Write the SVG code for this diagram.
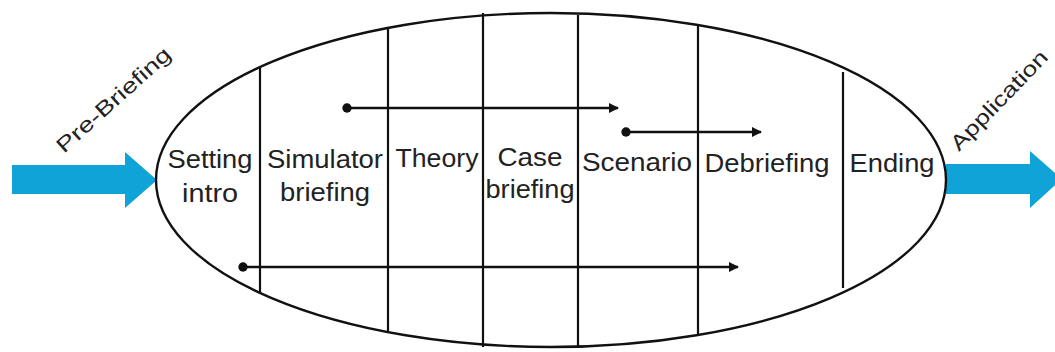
<svg xmlns="http://www.w3.org/2000/svg" width="1055" height="352" viewBox="0 0 1055 352">
<defs>
<style>
.lbl{font-family:"Liberation Sans",Arial,sans-serif;font-size:25px;fill:#222;text-anchor:middle}
.rot{font-family:"Liberation Sans",Arial,sans-serif;font-size:21px;fill:#222}
.div{stroke:#111;stroke-width:2.2;fill:none}
.conn{stroke:#111;stroke-width:2.6;fill:none}
.blue{fill:#0fa3d8}
</style>
<marker id="ah" viewBox="0 0 10 10" refX="9" refY="5" markerWidth="4" markerHeight="4" orient="auto" markerUnits="strokeWidth">
<path d="M0,0 L10,5 L0,10 z" fill="#111"/>
</marker>
<marker id="dot" viewBox="0 0 10 10" refX="5" refY="5" markerWidth="4" markerHeight="4" markerUnits="strokeWidth">
<circle cx="5" cy="5" r="4.5" fill="#111"/>
</marker>
</defs>
<rect width="1055" height="352" fill="#fff"/>
<g id="input-arrow">
<path class="blue" d="M12,165 L125,165 L125,152 L157,180 L125,208 L125,194 L12,194 z"/>
<text class="rot" transform="translate(64,154) rotate(-42)" textLength="146" lengthAdjust="spacingAndGlyphs">Pre-Briefing</text>
</g>
<g id="output-arrow">
<path class="blue" d="M946,164 L1030,164 L1030,151 L1062,179 L1030,208 L1030,194 L946,194 z"/>
<text class="rot" transform="translate(959,152) rotate(-46)" textLength="130" lengthAdjust="spacingAndGlyphs">Application</text>
</g>
<g id="process">
<ellipse cx="551" cy="180" rx="395" ry="167" fill="none" stroke="#111" stroke-width="2.4"/>
<line class="div" x1="260" y1="67" x2="260" y2="294"/>
<line class="div" x1="388" y1="28" x2="388" y2="332"/>
<line class="div" x1="483" y1="13" x2="483" y2="347"/>
<line class="div" x1="578" y1="15" x2="578" y2="346"/>
<line class="div" x1="698" y1="26" x2="698" y2="335"/>
<line class="div" x1="843" y1="72" x2="843" y2="288" stroke="#666"/>
</g>
<g id="setting-intro"><text class="lbl"><tspan x="210" y="168" textLength="85" lengthAdjust="spacingAndGlyphs">Setting</tspan><tspan x="210" y="202" textLength="56" lengthAdjust="spacingAndGlyphs">intro</tspan></text></g>
<g id="simulator-briefing"><text class="lbl"><tspan x="325" y="168" textLength="116" lengthAdjust="spacingAndGlyphs">Simulator</tspan><tspan x="325" y="201" textLength="90" lengthAdjust="spacingAndGlyphs">briefing</tspan></text></g>
<g id="theory"><text class="lbl" x="437" y="167" textLength="83" lengthAdjust="spacingAndGlyphs">Theory</text></g>
<g id="case-briefing"><text class="lbl"><tspan x="530" y="166" textLength="65" lengthAdjust="spacingAndGlyphs">Case</tspan><tspan x="530" y="198" textLength="89" lengthAdjust="spacingAndGlyphs">briefing</tspan></text></g>
<g id="scenario"><text class="lbl" x="637" y="171" textLength="110" lengthAdjust="spacingAndGlyphs">Scenario</text></g>
<g id="debriefing"><text class="lbl" x="767" y="172" textLength="125" lengthAdjust="spacingAndGlyphs">Debriefing</text></g>
<g id="ending"><text class="lbl" x="892" y="172" textLength="85" lengthAdjust="spacingAndGlyphs">Ending</text></g>
<g id="connectors">
<line class="conn" x1="347" y1="108" x2="618" y2="108" marker-start="url(#dot)" marker-end="url(#ah)"/>
<line class="conn" x1="626" y1="132" x2="761" y2="132" marker-start="url(#dot)" marker-end="url(#ah)"/>
<line class="conn" x1="243" y1="267" x2="738" y2="267" marker-start="url(#dot)" marker-end="url(#ah)"/>
</g>
</svg>
